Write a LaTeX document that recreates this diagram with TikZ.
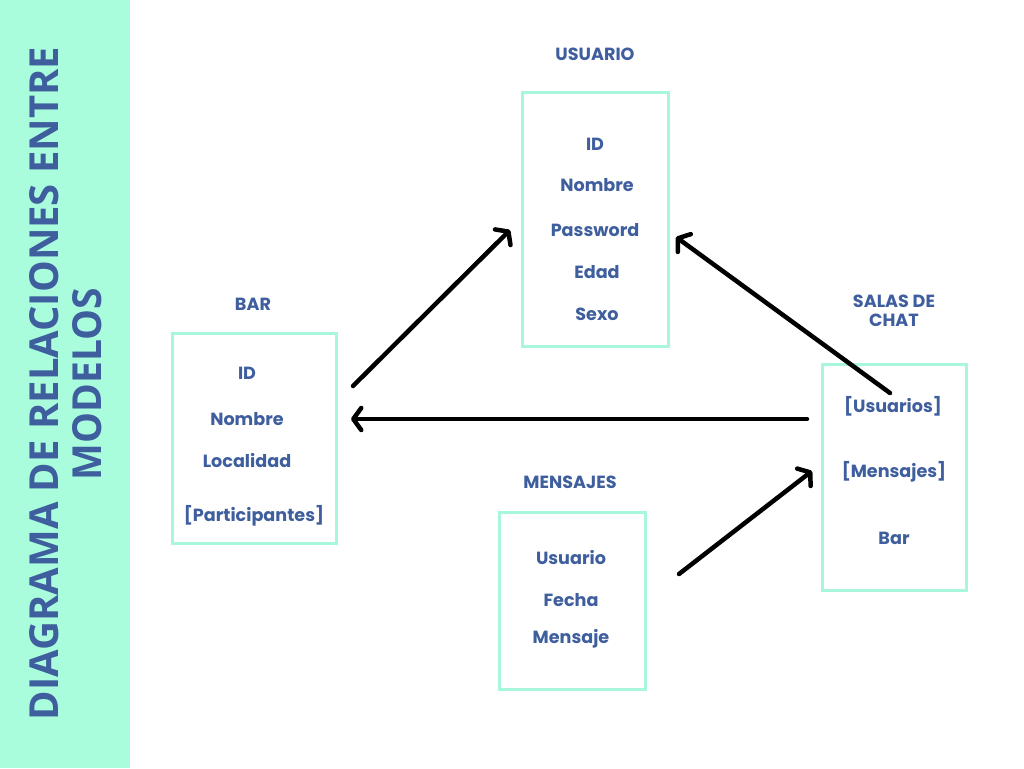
\documentclass[tikz,border=0pt]{standalone}
\usepackage{fontspec}
\setmainfont{Poppins}
\newfontfamily\titlefont{Open Sans}
\usetikzlibrary{arrows.meta}
\definecolor{mint}{HTML}{A9FDDD}
\definecolor{mintline}{HTML}{A8F7DA}
\definecolor{textblue}{HTML}{3E5E9E}
\tikzset{
  x=1pt, y=-1pt,
  model/.style={draw=mintline, line width=3pt, fill=white},
  lbl/.style={text=textblue, font=\fontsize{17.6}{19.5}\selectfont\bfseries, inner sep=0pt, anchor=center},
  conn/.style={draw=black, line width=4.5pt, line cap=round,
    -{Straight Barb[length=8pt,width=22pt,line cap=round,line join=round]}},
}
\begin{document}
\begin{tikzpicture}
\useasboundingbox (0,0) rectangle (1024,768);
\fill[white] (0,0) rectangle (1024,768);
\fill[mint] (0,0) rectangle (130,768);
% title
\node[text=textblue, rotate=90, inner sep=0pt] (t1) at (44.5,383.5)
  {\resizebox{673pt}{29pt}{\titlefont\bfseries DIAGRAMA DE RELACIONES ENTRE}};
\node[text=textblue, rotate=90, inner sep=0pt] (t2) at (87,384)
  {\resizebox{192pt}{29pt}{\titlefont\bfseries MODELOS}};
% boxes
\node[model, minimum width=146pt, minimum height=254pt] (usuario) at (595,219) {};
\node[model, minimum width=164pt, minimum height=210pt] (bar) at (254,438) {};
\node[model, minimum width=144pt, minimum height=226pt] (salas) at (894,477) {};
\node[model, minimum width=146pt, minimum height=177pt] (mensajes) at (572,600.5) {};
% titles
\node[lbl] (usuarioT) at (595,54) {USUARIO};
\node[lbl] (barT) at (253,304) {BAR};
\node[lbl, align=center] (salasT) at (894,311) {SALAS DE\\CHAT};
\node[lbl] (mensajesT) at (570,482) {MENSAJES};
% usuario items
\node[lbl] (u1) at (595,144) {ID};
\node[lbl] (u2) at (597,185) {Nombre};
\node[lbl] (u3) at (595,230) {Password};
\node[lbl] (u4) at (597,272) {Edad};
\node[lbl] (u5) at (597,314) {Sexo};
% bar items
\node[lbl] (b1) at (247,373) {ID};
\node[lbl] (b2) at (247,419) {Nombre};
\node[lbl] (b3) at (247,461) {Localidad};
\node[lbl] (b4) at (254,516) {[Participantes]};
% salas items
\node[lbl] (s1) at (893,406) {[Usuarios]};
\node[lbl] (s2) at (894,472) {[Mensajes]};
\node[lbl] (s3) at (894,538) {Bar};
% mensajes items
\node[lbl] (m1) at (571,558) {Usuario};
\node[lbl] (m2) at (571,600) {Fecha};
\node[lbl] (m3) at (571,639) {Mensaje};
% connector endpoints
\coordinate (barOutA) at (353,386);
\coordinate (usuInA) at (510,230);
\coordinate (salOutU) at (890,393);
\coordinate (usuInB) at (676,237);
\coordinate (salOutB) at (807,419);
\coordinate (barIn) at (351,419);
\coordinate (menOut) at (679,574);
\coordinate (salIn) at (812,471);
\draw[conn] (barOutA) -- (usuInA);
\draw[conn] (salOutU) -- (usuInB);
\draw[conn] (salOutB) -- (barIn);
\draw[conn] (menOut) -- (salIn);
\end{tikzpicture}
\end{document}
